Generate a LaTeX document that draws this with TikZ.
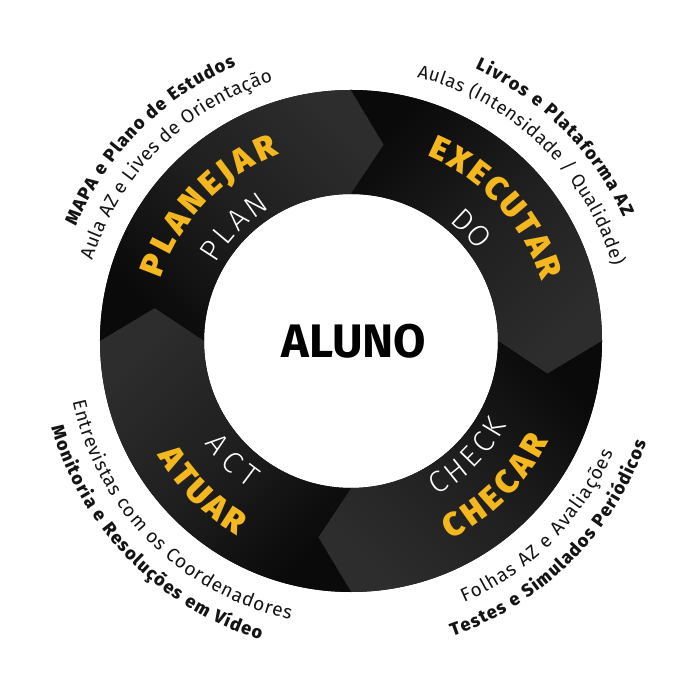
\documentclass[tikz,border=0pt]{standalone}
\usepackage{fontspec}
\usetikzlibrary{decorations.text}
\setmainfont{Fira Sans}
\IfFontExistsTF{Fira Sans Black}{\newfontfamily\heavyf{Fira Sans Black}}{\newcommand\heavyf{\bfseries}}
\IfFontExistsTF{Fira Sans Light}{\newfontfamily\thinf{Fira Sans Light}}{\newcommand\thinf{\mdseries}}
\IfFontExistsTF{Fira Sans ExtraBold}{\newfontfamily\xboldf{Fira Sans ExtraBold}}{\newcommand\xboldf{\bfseries}}
\definecolor{segdark}{HTML}{0A0A0A}
\definecolor{segmid}{HTML}{1F1F1F}
\definecolor{seglight}{HTML}{2D2D2D}
\definecolor{ylw}{HTML}{F5B71E}
\definecolor{txt}{HTML}{141414}
\newcommand\arctext[6]{%
  \path[decorate, decoration={text along path, text align=fit to path, text color=#4, text={|#5|#6}}]
    (#2:#1pt) arc[start angle=#2, end angle=#3, radius=#1pt];}
\newcommand\fbold{\xboldf\fontsize{18pt}{18pt}\selectfont}
\newcommand\freg{\fontsize{19pt}{19pt}\selectfont}
\newcommand\fregs{\fontsize{18.5pt}{18.5pt}\selectfont}
\newcommand\fheavy{\heavyf\fontsize{33pt}{33pt}\selectfont}
\newcommand\fthin{\thinf\fontsize{30pt}{30pt}\selectfont}
\tikzset{segshade/.style={top color=seglight, bottom color=segdark, middle color=segmid}}
\begin{document}
\begin{tikzpicture}
\useasboundingbox (-351pt,-359pt) rectangle (349pt,341pt);
\fill[white] (-351pt,-359pt) rectangle (349pt,341pt);
\fill[segdark, even odd rule] (0pt,0pt) circle[radius=251pt] (0pt,0pt) circle[radius=147pt];
\foreach \sa/\sh in {180/-45, 90/-135, 0/-225, 270/45}{
  \pgfmathsetmacro\ea{\sa-90}
  \pgfmathsetmacro\ta{\sa-99.5}
  \pgfmathsetmacro\na{\sa-9.5}
  \shade[segshade, shading angle=\sh] (\sa:251pt) arc[start angle=\sa, end angle=\ea, radius=251pt]
    -- (\ta:199pt) -- (\ea:147pt) arc[start angle=\ea, end angle=\sa, radius=147pt] -- (\na:199pt) -- cycle;
}
\node[font=\bfseries\fontsize{47pt}{47pt}\selectfont, inner sep=0pt, text=black] (aluno) at (3pt,0pt) {ALUNO};
% outer texts
\arctext{298}{157.4}{112.7}{txt}{\fbold}{MAPA e Plano de Estudos}
\arctext{271}{162.7}{106.7}{txt}{\freg}{Aula AZ e Lives de Orientação}
\arctext{299}{65.5}{24.4}{txt}{\fbold}{Livros e Plataforma AZ}
\arctext{272}{76}{16}{txt}{\fregs}{Aulas (Intensidade / Qualidade)}
\arctext{285}{192.3}{257.7}{txt}{\freg}{Entrevistas com os Coordenadores}
\arctext{312}{196.1}{253.1}{txt}{\fbold}{Monitoria e Resoluções em Vídeo}
\arctext{285}{-66.6}{-23.1}{txt}{\freg}{Folhas AZ e Avaliações}
\arctext{312}{-71}{-18.9}{txt}{\fbold}{Testes e Simulados Periódicos}
% ring words
\arctext{200}{161.8}{111.1}{ylw}{\fheavy}{PLANEJAR}
\arctext{156}{150.1}{121.4}{white}{\fthin}{PLAN}
\arctext{200}{67.6}{17.4}{ylw}{\fheavy}{EXECUTAR}
\arctext{155}{50.5}{35.5}{white}{\fthin}{DO}
\arctext{177}{-61}{-28.4}{white}{\fthin}{CHECK}
\arctext{222}{-63.4}{-27}{ylw}{\fheavy}{CHECAR}
\arctext{179}{215}{235.6}{white}{\fthin}{ACT}
\arctext{225}{210.6}{239.6}{ylw}{\fheavy}{ATUAR}
\end{tikzpicture}
\end{document}
